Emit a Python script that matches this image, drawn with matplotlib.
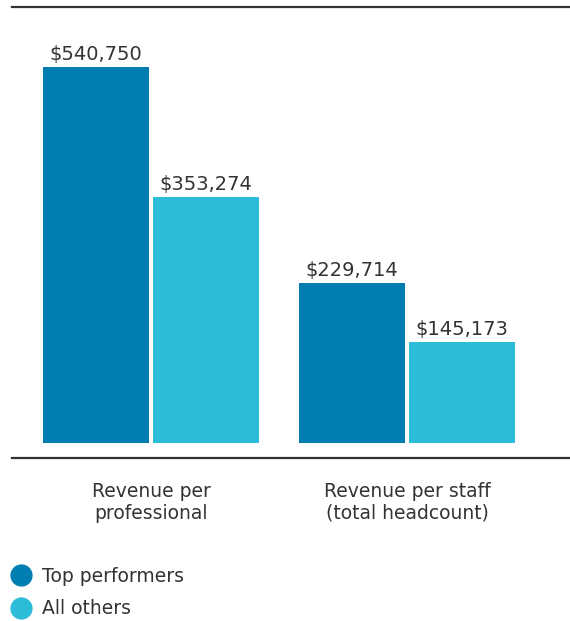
import matplotlib
matplotlib.use("Agg")
import matplotlib.pyplot as plt
from matplotlib.lines import Line2D
import numpy as np

# Data
categories = ["Revenue per\nprofessional", "Revenue per staff\n(total headcount)"]
series_names = ["Top performers", "All others"]
top_performers = [540750, 229714]
all_others = [353274, 145173]
series_values = [top_performers, all_others]
colors = ["#007eb1", "#2bbcd8"]
text_color = "#333333"

W, H = 570, 621
fig = plt.figure(figsize=(W / 100, H / 100), dpi=100)

# Axes spans from the top rule (y=7px) to the baseline rule (y=458px)
ax_left, ax_right = 12, 570
ax_top, ax_bottom = 7, 458
ax = fig.add_axes([ax_left / W, 1 - ax_bottom / H,
                   (ax_right - ax_left) / W, (ax_bottom - ax_top) / H])

x = np.arange(len(categories))
bar_w = 106 / 256
offset = 55 / 256
for i, (name, vals, c) in enumerate(zip(series_names, series_values, colors)):
    pos = x + (i - 0.5) * 2 * offset
    bars = ax.bar(pos, vals, width=bar_w, color=c, label=name, zorder=2)
    for b, v in zip(bars, vals):
        ax.annotate(f"${v:,.0f}", (b.get_x() + b.get_width() / 2, v),
                    xytext=(0, 5), textcoords="offset points",
                    ha="center", va="baseline", fontsize=14, color=text_color)

k = 540750 / 376  # dollars per pixel
ax.set_ylim(-15 * k, (ax_bottom - ax_top - 15) * k)
ax.set_xlim((ax_left - 151) / 256, (ax_right - 151) / 256)

for s in ["left", "right"]:
    ax.spines[s].set_visible(False)
for s in ["top", "bottom"]:
    ax.spines[s].set_color("#333333")
    ax.spines[s].set_linewidth(1.6)
ax.set_yticks([])
ax.set_xticks(x)
ax.set_xticklabels(categories, fontsize=13.5, color=text_color, linespacing=1.2)
ax.tick_params(axis="x", length=0, pad=17)

handles = [Line2D([], [], marker="o", linestyle="none", markersize=15,
                  markerfacecolor=c, markeredgecolor=c) for c in colors]
fig.legend(handles, series_names, loc="upper left",
           bbox_to_anchor=(9 / W, 1 - 567 / H), frameon=False,
           fontsize=13.5, labelcolor=text_color, handletextpad=0.45,
           labelspacing=0.72, borderpad=0, borderaxespad=0, handlelength=1.3)

fig.savefig("out.png", dpi=100)
